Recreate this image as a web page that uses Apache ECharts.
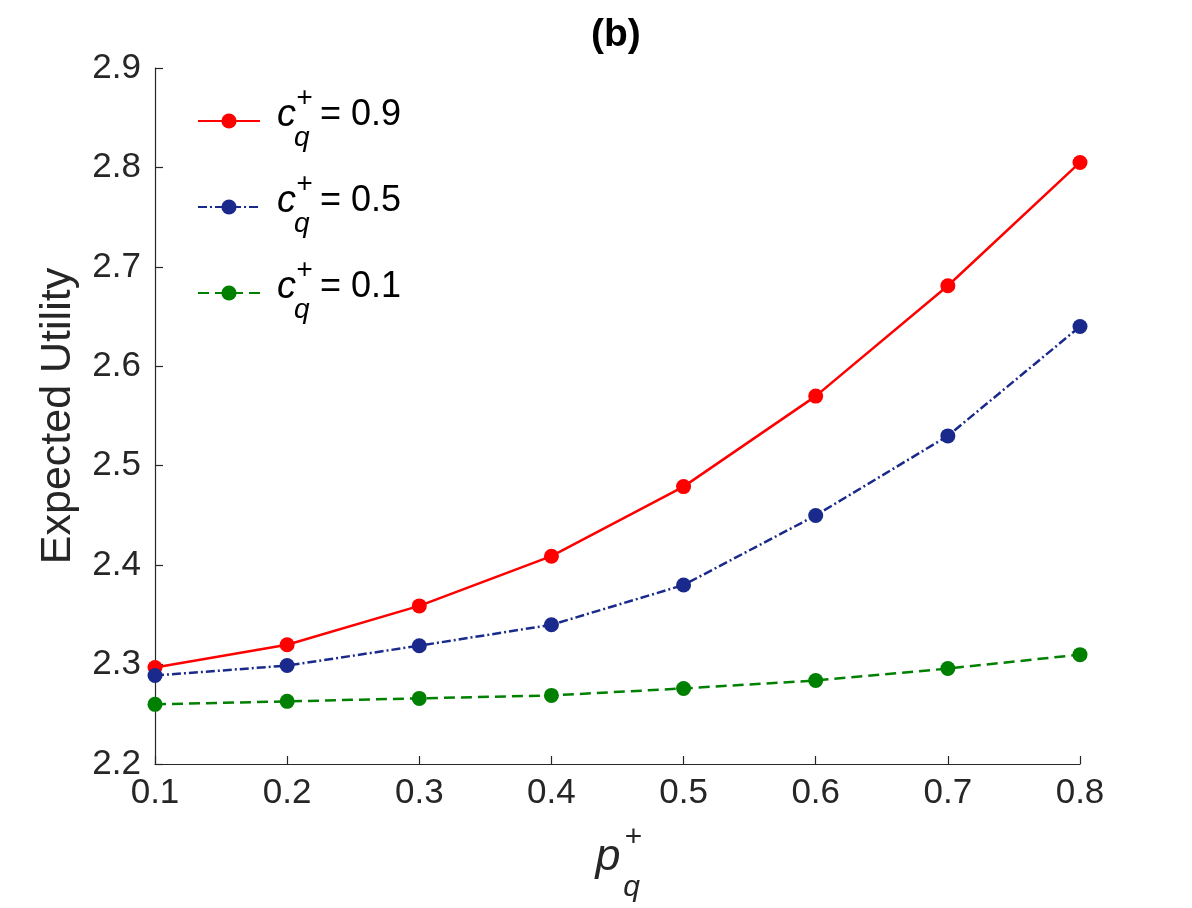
<!DOCTYPE html>
<html>
<head>
<meta charset="utf-8">
<script src="https://cdn.jsdelivr.net/npm/echarts@6/dist/echarts.min.js"></script>
<style>
html,body{margin:0;padding:0;background:#fff;}
#chart{width:1192px;height:908px;}
</style>
</head>
<body>
<div id="chart"></div>
<script>
var xCategories = ['0.1','0.2','0.3','0.4','0.5','0.6','0.7','0.8'];
var seriesNames = ['0.9','0.5','0.1'];
var red09 = [2.297, 2.320, 2.359, 2.409, 2.479, 2.570, 2.681, 2.805];
var blue05 = [2.289, 2.299, 2.319, 2.340, 2.380, 2.450, 2.530, 2.640];
var green01 = [2.260, 2.263, 2.266, 2.269, 2.276, 2.284, 2.296, 2.310];
var yTicks = ['2.2','2.3','2.4','2.5','2.6','2.7','2.8','2.9'];

var FONT = '"Liberation Sans", Arial, Helvetica, sans-serif';
var TXT = '#262626';

var chart = echarts.init(document.getElementById('chart'), null, {renderer:'canvas'});

function mkSeries(name, data, color, type) {
  return {
    name: name,
    type: 'line',
    data: data,
    symbol: 'circle',
    symbolSize: 15,
    showSymbol: true,
    itemStyle: {color: color},
    lineStyle: {color: color, width: 2.5, type: type},
    emphasis: {disabled: true},
    animation: false
  };
}

var legendRich = {
  pad: {width: 12, fontSize: 4, lineHeight: 4},
  sp: {width: 19, fontSize: 4, lineHeight: 14},
  sup: {fontFamily: FONT, fontStyle: 'italic', fontSize: 28, color: '#000', lineHeight: 14},
  c: {fontFamily: FONT, fontStyle: 'italic', fontSize: 38, color: '#000', lineHeight: 20},
  gap: {width: 24, fontSize: 4, lineHeight: 20},
  eq: {fontFamily: FONT, fontSize: 36, color: '#000', lineHeight: 20},
  sp2: {width: 17, fontSize: 4, lineHeight: 26},
  sub: {fontFamily: FONT, fontStyle: 'italic', fontSize: 28, color: '#000', lineHeight: 26}
};

function legendFmt(name) {
  return '{pad| }{sp| }{sup|+}\n{pad| }{c|c}{gap| }{eq|= ' + name + '}\n{pad| }{sp2| }{sub|q}';
}

var legendTops = [79, 165, 251];

function mkLegend(i) {
  return {
    orient: 'vertical',
    left: 192,
    top: legendTops[i],
    padding: 5,
    itemWidth: 62,
    itemHeight: 19,
    selectedMode: false,
    data: [seriesNames[i]],
    formatter: legendFmt,
    textStyle: {rich: legendRich}
  };
}

var axisNameRich = {
  sp: {width: 31, fontSize: 4, lineHeight: 4},
  sup: {fontFamily: FONT, fontStyle: 'italic', fontSize: 30, color: TXT, lineHeight: 4, width: 18},
  p: {fontFamily: FONT, fontStyle: 'italic', fontSize: 45, color: TXT, lineHeight: 34, width: 30},
  gap: {width: 19, fontSize: 4, lineHeight: 34},
  sp2: {width: 28, fontSize: 4, lineHeight: 28},
  sub: {fontFamily: FONT, fontStyle: 'italic', fontSize: 30, color: TXT, lineHeight: 28, width: 21}
};

var option = {
  backgroundColor: '#fff',
  animation: false,
  title: {
    text: '(b)',
    left: 586,
    top: 11,
    textStyle: {fontFamily: FONT, fontWeight: 'bold', fontSize: 39, color: '#000'}
  },
  grid: {left: 155, right: 112, top: 68, bottom: 135, containLabel: false},
  legend: [mkLegend(0), mkLegend(1), mkLegend(2)],
  xAxis: {
    type: 'category',
    data: xCategories,
    boundaryGap: false,
    axisLine: {show: true, lineStyle: {color: TXT, width: 1.2}},
    axisTick: {show: true, inside: true, length: 8, alignWithLabel: true, lineStyle: {color: TXT, width: 1.2}},
    axisLabel: {fontFamily: FONT, fontSize: 35, color: TXT, margin: 12},
    splitLine: {show: false},
    name: '{sp| }{sup|+}\n{p|p}{gap| }\n{sp2| }{sub|q}',
    nameLocation: 'middle',
    nameGap: 72,
    nameTextStyle: {rich: axisNameRich}
  },
  yAxis: {
    type: 'value',
    min: 2.2,
    max: 2.9,
    interval: 0.1,
    axisLine: {show: true, lineStyle: {color: TXT, width: 1.2}},
    axisTick: {show: true, inside: true, length: 8, lineStyle: {color: TXT, width: 1.2}},
    axisLabel: {
      fontFamily: FONT, fontSize: 35, color: TXT, margin: 14,
      formatter: function (v) {
        var i = Math.round((v - 2.2) * 10);
        return yTicks[i] !== undefined ? yTicks[i] : v.toFixed(1);
      }
    },
    splitLine: {show: false},
    name: 'Expected Utility',
    nameLocation: 'middle',
    nameGap: 75,
    nameTextStyle: {fontFamily: FONT, fontSize: 43, color: TXT}
  },
  series: [
    mkSeries(seriesNames[0], red09, '#ff0000', 'solid'),
    mkSeries(seriesNames[1], blue05, '#1a2a8c', [9, 3, 2, 3]),
    mkSeries(seriesNames[2], green01, '#008000', [11, 6])
  ]
};
chart.setOption(option);
</script>
</body>
</html>
